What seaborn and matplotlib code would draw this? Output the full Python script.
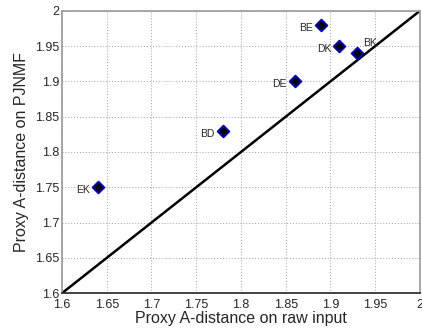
import numpy as np
import pandas as pd
import matplotlib
matplotlib.use("Agg")
import matplotlib.pyplot as plt
import seaborn as sns

pairs = ["EK", "BD", "DE", "BE", "DK", "BK"]
raw_input = [1.64, 1.78, 1.86, 1.89, 1.91, 1.93]
pjnmf = [1.75, 1.83, 1.90, 1.98, 1.95, 1.94]
diag = [1.6, 2.0]
ticks = [1.6, 1.65, 1.7, 1.75, 1.8, 1.85, 1.9, 1.95, 2]
tick_labels = ["1.6", "1.65", "1.7", "1.75", "1.8", "1.85", "1.9", "1.95", "2"]

df = pd.DataFrame({"pair": pairs, "raw": raw_input, "pjnmf": pjnmf})

sns.set_style("white")
plt.rcParams["font.family"] = ["Liberation Sans", "DejaVu Sans"]

fig = plt.figure(figsize=(4.22, 3.29), dpi=100)
ax = fig.add_axes([0.147, 0.109, 0.848, 0.858])

ax.grid(True, linestyle=(0, (1, 2)), color="#a0a0a0", linewidth=0.7)
sns.lineplot(x=diag, y=diag, ax=ax, color="black", linewidth=1.8, zorder=2)
sns.scatterplot(data=df, x="raw", y="pjnmf", ax=ax, marker="D", s=36,
                color="black", edgecolor="#0000cc", linewidth=1.3, zorder=3)

offsets = {"EK": (-6, -2), "BD": (-6, -2), "DE": (-6, -2),
           "BE": (-6, -2), "DK": (-6, -2), "BK": (4, 7)}
for p, x, y in zip(pairs, raw_input, pjnmf):
    ha = "left" if p == "BK" else "right"
    ax.annotate(p, (x, y), xytext=offsets[p], textcoords="offset points",
                fontsize=7.5, ha=ha, va="center")

ax.set_xlim(1.6, 2.0)
ax.set_ylim(1.6, 2.0)
ax.set_xticks(ticks)
ax.set_xticklabels(tick_labels, fontsize=9)
ax.set_yticks(ticks)
ax.set_yticklabels(tick_labels, fontsize=9)
ax.tick_params(direction="in", length=3, pad=2)
ax.tick_params(axis="x", pad=4)
ax.set_xlabel("Proxy A-distance on raw input", fontsize=11.5, labelpad=0)
ax.set_ylabel("Proxy A-distance on PJNMF", fontsize=11.5, labelpad=4)
for s in ["left", "top", "right"]:
    ax.spines[s].set_color("#999999")
    ax.spines[s].set_linewidth(1.2)
ax.spines["bottom"].set_color("#222222")
ax.spines["bottom"].set_linewidth(1.2)

fig.savefig("out.png", dpi=100)
